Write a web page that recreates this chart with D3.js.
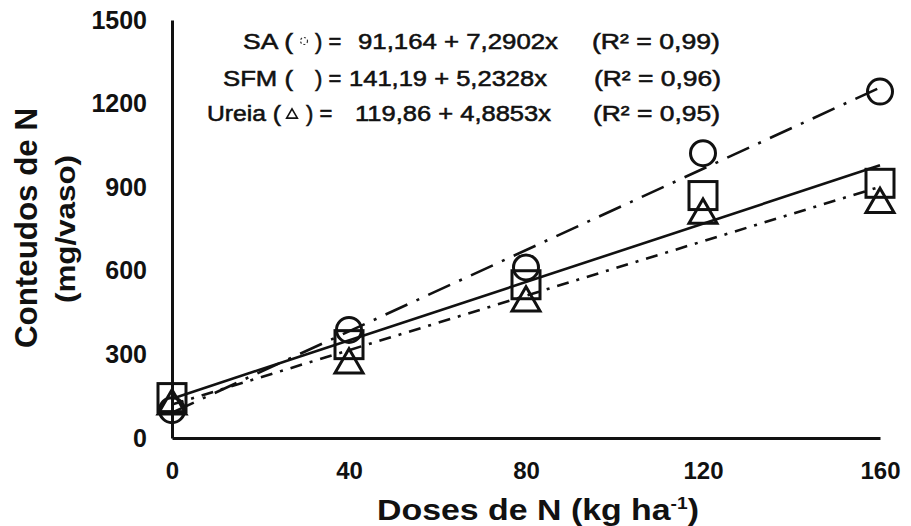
<!DOCTYPE html>
<meta charset="utf-8">
<style>
body { margin: 0; background: #fff; font-family: "Liberation Sans", Arial, sans-serif; }
.tick text { font-weight: bold; fill: #111; }
.domain { stroke: #111; stroke-width: 3; }
.eq { font-size: 22px; fill: #111; stroke: #111; stroke-width: 0.55; white-space: pre; }
.title { font-weight: bold; fill: #111; }
</style>
<svg width="911" height="526"></svg>
<script src="https://cdn.jsdelivr.net/npm/d3@7"></script>
<script>

var svg = d3.select("svg");

// data
var doses = [0, 40, 80, 120, 160];
var sa = [100, 388, 612, 1022, 1243];
var sfm = [145, 335, 550, 870, 914];
var ureia = [115, 262, 485, 800, 838];

// fitted equations (intercept, slope)
var fitA = [91.164, 141.19, 119.86];
var fitB = [7.2902, 5.2328, 4.8853];
var eqNames = ["SA (", "SFM (", "Ureia ("];
var eqRight = ["91,164 + 7,2902x", "141,19 + 5,2328x", "119,86 + 4,8853x"];
var r2Labels = ["(R\u00b2 = 0,99)", "(R\u00b2 = 0,96)", "(R\u00b2 = 0,95)"];

var xTicks = [0, 40, 80, 120, 160];
var yTicks = [0, 300, 600, 900, 1200, 1500];

var x = d3.scaleLinear().domain([0, 160]).range([172, 880]);
var y = d3.scaleLinear().domain([0, 1500]).range([438, 20]);

// axes
svg.append("g")
    .attr("transform", "translate(0,438)")
    .call(d3.axisBottom(x).tickValues(xTicks).tickSize(0).tickPadding(24).tickSizeOuter(0))
    .selectAll("text").attr("font-family", null).attr("font-size", 24);

svg.append("g")
    .attr("transform", "translate(172,0)")
    .call(d3.axisLeft(y).tickValues(yTicks).tickFormat(d3.format("d")).tickSize(0).tickPadding(25).tickSizeOuter(0))
    .selectAll("text").attr("font-family", null).attr("font-size", 25);

svg.selectAll(".tick line").remove();

// regression lines
var dash = ["24,10,3,10", null, "12,8,3,8"];

fitA.forEach(function(a, i) {
  svg.append("line")
    .attr("x1", x(0)).attr("y1", y(a))
    .attr("x2", x(160)).attr("y2", y(a + fitB[i] * 160))
    .attr("stroke", "#111")
    .attr("stroke-width", 2.6)
    .attr("stroke-dasharray", dash[i]);
});

// markers
var gm = svg.append("g").attr("fill", "none").attr("stroke", "#111").attr("stroke-width", 3);

gm.selectAll(".c").data(sa).enter().append("circle")
    .attr("cx", function(d, i) { return x(doses[i]); })
    .attr("cy", function(d) { return y(d); })
    .attr("r", 12.5);

gm.selectAll(".s").data(sfm).enter().append("rect")
    .attr("x", function(d, i) { return x(doses[i]) - 14; })
    .attr("y", function(d) { return y(d) - 14; })
    .attr("width", 28).attr("height", 28);

var tri = d3.symbol().type(d3.symbolTriangle).size(340);
gm.selectAll(".t").data(ureia).enter().append("path")
    .attr("d", tri)
    .attr("transform", function(d, i) { return "translate(" + x(doses[i]) + "," + y(d) + ")"; });

// equations, piece by piece
var eqY = [49, 86, 121];
var nameX = [243, 223, 207], nameW = [50, 70, 74];
var closeX = [315, 315, 306];
var numX = [358, 349, 355], numW = [200, 198, 196];
var r2X = [592, 594, 593], r2W = [128, 127, 127];

eqNames.forEach(function(t, i) {
  svg.append("text").attr("class", "eq")
    .attr("x", nameX[i]).attr("y", eqY[i])
    .attr("textLength", nameW[i]).attr("lengthAdjust", "spacingAndGlyphs")
    .text(t);
  svg.append("text").attr("class", "eq")
    .attr("x", closeX[i]).attr("y", eqY[i])
    .text(") =");
  svg.append("text").attr("class", "eq")
    .attr("x", numX[i]).attr("y", eqY[i])
    .attr("textLength", numW[i]).attr("lengthAdjust", "spacingAndGlyphs")
    .text(eqRight[i]);
  svg.append("text").attr("class", "eq")
    .attr("x", r2X[i]).attr("y", eqY[i])
    .attr("textLength", r2W[i]).attr("lengthAdjust", "spacingAndGlyphs")
    .text(r2Labels[i]);
});
// tiny marker glyphs inside the parentheses
svg.append("circle").attr("cx", 304).attr("cy", 41).attr("r", 3.5)
    .attr("fill", "none").attr("stroke", "#333").attr("stroke-width", 1.2).attr("stroke-dasharray", "2,2");
svg.append("path").attr("d", d3.symbol().type(d3.symbolTriangle).size(50)())
    .attr("transform", "translate(292,115)")
    .attr("fill", "none").attr("stroke", "#111").attr("stroke-width", 1.6);

// axis titles
svg.append("text").attr("class", "title")
    .attr("x", 377).attr("y", 520)
    .attr("font-size", 30)
    .attr("textLength", 322).attr("lengthAdjust", "spacingAndGlyphs")
    .html('Doses de N (kg ha<tspan dy="-11" font-size="17">-1</tspan><tspan dy="11">)</tspan>');

svg.append("text").attr("class", "title")
    .attr("transform", "translate(37,228) rotate(-90)")
    .attr("text-anchor", "middle")
    .attr("font-size", 31)
    .attr("textLength", 240).attr("lengthAdjust", "spacingAndGlyphs")
    .text("Conteudos de N");

svg.append("text").attr("class", "title")
    .attr("transform", "translate(75,229) rotate(-90)")
    .attr("text-anchor", "middle")
    .attr("font-size", 28)
    .attr("textLength", 148).attr("lengthAdjust", "spacingAndGlyphs")
    .text("(mg/vaso)");

</script>
